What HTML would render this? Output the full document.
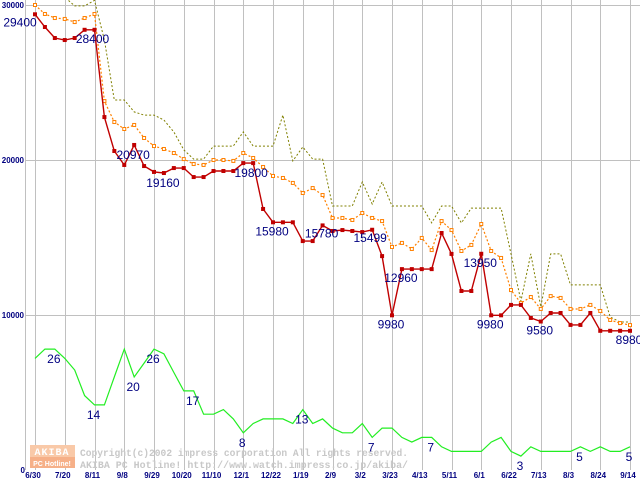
<!DOCTYPE html>
<html><head><meta charset="utf-8"><style>
html,body{margin:0;padding:0;background:#fff;width:640px;height:480px;overflow:hidden}
svg{display:block}
</style></head><body>
<svg id="chart" width="640" height="480" viewBox="0 0 640 480" xmlns="http://www.w3.org/2000/svg">
<g id="grid"></g>
<g id="watermark">
  <rect x="30" y="445" width="45" height="12" fill="#f9c9a8"/>
  <rect x="30" y="457" width="45" height="11" fill="#f6b088"/>
  <text x="52" y="455" font-family="Liberation Mono, monospace" font-size="10" font-weight="bold" fill="#fff" text-anchor="middle" letter-spacing="1">AKIBA</text>
  <text x="52" y="466" font-family="Liberation Sans, sans-serif" font-size="7" font-weight="bold" fill="#fff" text-anchor="middle">PC Hotline!</text>
  <text x="80" y="456" font-family="Liberation Mono, monospace" font-size="10" font-weight="bold" fill="#c8c8c8" textLength="328" lengthAdjust="spacingAndGlyphs">Copyright(c)2002 impress corporation All rights reserved.</text>
  <text x="80" y="468" font-family="Liberation Mono, monospace" font-size="10" font-weight="bold" fill="#c8c8c8" textLength="328" lengthAdjust="spacingAndGlyphs">AKIBA PC Hotline!  http://www.watch.impress.co.jp/akiba/</text>
</g>
<g id="series"></g>
<g id="labels"></g>
<g id="axes"></g>
</svg>
<script>
const xTickLabels = ["6/30","7/20","8/11","9/8","9/29","10/20","11/10","12/1","12/22","1/19","2/9","3/2","3/23","4/13","5/11","6/1","6/22","7/13","8/3","8/24","9/14"];
const yTicks = [0, 10000, 20000, 30000];
const minPrice = [29400,28580,27870,27740,27870,28400,28400,22770,20580,19680,20970,19610,19230,19160,19480,19480,18900,18900,19290,19290,19290,19800,19800,16840,15980,15980,15980,14770,14770,15780,15420,15480,15420,15350,15499,13800,9980,12960,12960,12960,12960,15290,13940,11550,11550,13950,9980,9980,10650,10650,9810,9580,10130,10130,9360,9360,10130,8980,8980,8980,8980];
const avgPrice = [30000,29420,29160,29100,28900,29160,29420,23800,22450,22000,22260,21420,20900,20710,20450,20060,19740,19680,20000,20000,19940,20450,20130,19550,18970,18840,18520,17870,18190,17740,16260,16260,16130,16580,16260,16060,14390,14650,14260,14970,14190,16060,15480,14130,14520,15870,14130,13680,11610,10770,11160,10390,11220,11100,10390,10390,10650,10260,9680,9480,9350];
const maxPrice = [30500,31000,31000,30500,29940,29940,30300,27740,23870,23870,23100,22900,22900,22580,21810,20650,20060,20060,20900,20900,20900,21810,20900,20900,20900,22900,19940,20840,20060,20060,17030,17030,17030,18580,17160,18580,17030,17030,17030,17030,15940,17030,17030,15940,16900,16900,16900,16900,13940,10900,13940,10520,13940,13940,11940,11940,11940,11940,9870,9550,9550];
const shopCount = [24,26,26,24,21.5,16,14,14,20,26,20,23,26,25,21,17,17,12,12,13,11,8,10,11,11,11,10,13,10,11,9,8,8,10,7,9,9,7,6,7,7,5,4,4,4,4,6,7,4,3,5,4,4,4,4,5,4,5,4,4,5];
const minLabels = [[0,"29400",-15,12],[6,"28400",-2,13],[10,"20970",-1,14],[13,"19160",-1,14],[22,"19800",-2,14],[24,"15980",-1,13],[29,"15780",-1,12],[34,"15499",-2,12],[36,"9980",-1,13],[37,"12960",-1,13],[45,"13950",-1,13],[46,"9980",-1,13],[51,"9580",-1,13],[60,"8980",-1,13]];
const countLabels = [[2,"26"],[6,"14"],[10,"20"],[12,"26"],[16,"17"],[21,"8"],[27,"13"],[34,"7"],[40,"7"],[49,"3"],[55,"5"],[60,"5"]];

const NS = "http://www.w3.org/2000/svg";
const X0 = 35, XSTEP = 595/60, LEFT = 25, RIGHT = 640;
function xs(i){ return X0 + i*XSTEP; }
function ys(v){ return 470 - v*0.0155; }
function ysCount(n){ return ys(n*300); }
function mk(tag, attrs, parent){ const e=document.createElementNS(NS,tag); for(const k in attrs) e.setAttribute(k,attrs[k]); parent.appendChild(e); return e; }

const grid = document.getElementById('grid');
const axes = document.getElementById('axes');
const series = document.getElementById('series');
const labels = document.getElementById('labels');

const defs = mk('defs',{},document.getElementById('chart'));
const cp = mk('clipPath',{id:'plotclip'},defs);
mk('rect',{x:LEFT,y:0,width:RIGHT-LEFT,height:471},cp);
series.setAttribute('clip-path','url(#plotclip)');

mk('line',{x1:LEFT+0.5,y1:0,x2:LEFT+0.5,y2:470,stroke:'#c0c0c0','stroke-width':1},grid);
yTicks.forEach(function(v){
  if(v>0){
    const l = mk('line',{x1:LEFT,y1:ys(v)+0.5,x2:RIGHT,y2:ys(v)+0.5,stroke:'#c0c0c0','stroke-width':1},grid);
    
    
  }
  const t = mk('text',{x:v===0?25:24,y:ys(v)+3,'text-anchor':'end','font-family':'Liberation Sans, sans-serif','font-size':8,'font-weight':'bold',fill:'#000080'},axes);
  t.textContent = String(v);
  
  
});
xTickLabels.forEach(function(lab,k){
  const x = xs(k*3);
  const l = mk('line',{x1:Math.round(x)+0.5,y1:0,x2:Math.round(x)+0.5,y2:470,stroke:'#c0c0c0','stroke-width':1},grid);
  
  
  const t = mk('text',{x:x-2,y:478,'text-anchor':'middle','font-family':'Liberation Sans, sans-serif','font-size':8,'font-weight':'bold',fill:'#000080'},axes);
  t.textContent = lab;
  
  
});

function pts(arr, f){ return arr.map(function(v,i){ return xs(i).toFixed(1)+','+f(v).toFixed(1); }).join(' '); }

const gLine = mk('polyline',{points:pts(shopCount,ysCount),fill:'none',stroke:'#22ee22','stroke-width':1.2},series);



const mLine = mk('polyline',{points:pts(maxPrice,ys),fill:'none',stroke:'#808000','stroke-width':1,'stroke-dasharray':'2,2'},series);



const aLine = mk('polyline',{points:pts(avgPrice,ys),fill:'none',stroke:'#ff8000','stroke-width':1.2,'stroke-dasharray':'2,2'},series);


avgPrice.forEach(function(v,i){
  const r = mk('rect',{x:xs(i)-1.5,y:ys(v)-1.5,width:3,height:3,fill:'#fff',stroke:'#ff8000','stroke-width':1},series);
  
  
});

const rLine = mk('polyline',{points:pts(minPrice,ys),fill:'none',stroke:'#c00000','stroke-width':1.4},series);


minPrice.forEach(function(v,i){
  const r = mk('rect',{x:xs(i)-2,y:ys(v)-2,width:4,height:4,fill:'#c00000'},series);
  
  
});

minLabels.forEach(function(d){
  const i=d[0];
  const t = mk('text',{x:xs(i)+d[2],y:ys(minPrice[i])+d[3],'text-anchor':'middle','font-family':'Liberation Sans, sans-serif','font-size':12,fill:'#000080'},labels);
  t.textContent = d[1];
  
  
});
countLabels.forEach(function(d){
  const i=d[0];
  const t = mk('text',{x:xs(i)-1,y:ysCount(shopCount[i])+14,'text-anchor':'middle','font-family':'Liberation Sans, sans-serif','font-size':12,fill:'#000080'},labels);
  t.textContent = d[1];
  
  
});
</script>
</body></html>
